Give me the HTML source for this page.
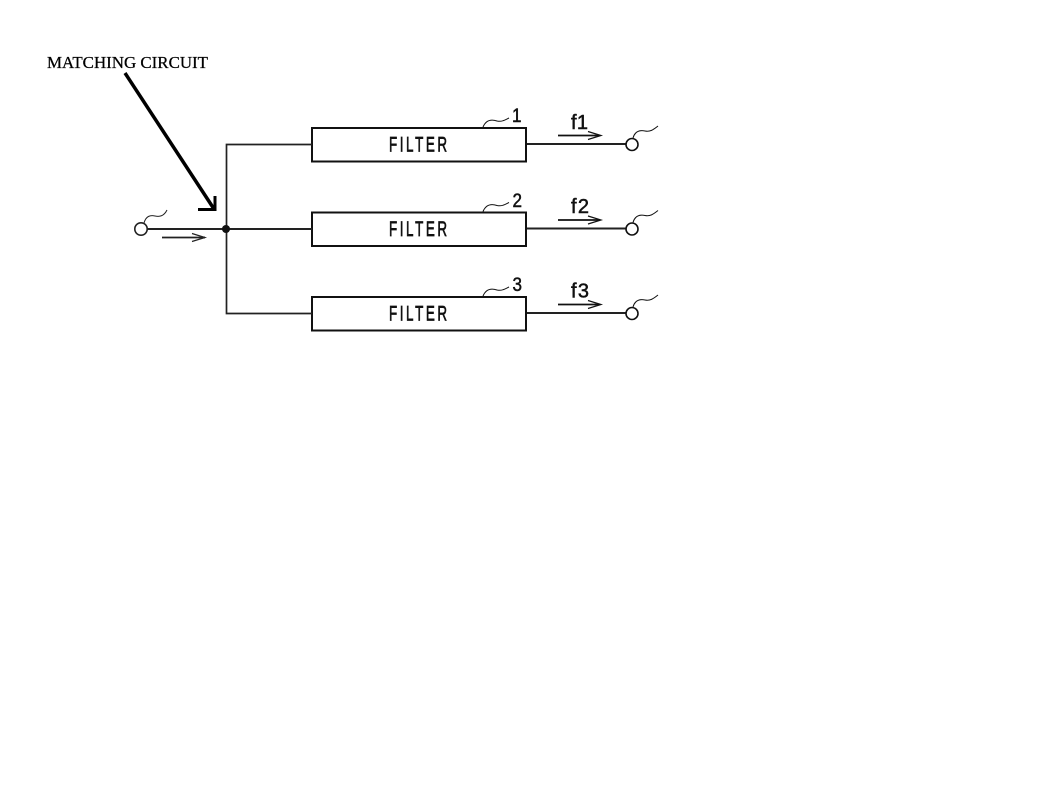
<!DOCTYPE html>
<html>
<head>
<meta charset="utf-8">
<style>
html,body{margin:0;padding:0;background:#fff;}
body{width:1057px;height:806px;overflow:hidden;}
svg{display:block;}
</style>
</head>
<body>
<svg width="1057" height="806" viewBox="0 0 1057 806" xmlns="http://www.w3.org/2000/svg">
<defs>
<g id="row" fill="none" stroke="#111">
  <rect x="312" y="128" width="214" height="33.500" stroke-width="2" fill="#fff"/>
  <line x1="527" y1="144" x2="626.500" y2="144" stroke-width="1.900" stroke="#222"/>
  <circle cx="632" cy="144.500" r="6" stroke-width="1.600" fill="#fff"/>
  <path d="M633 138 C635 131 640 130 645 131 C650 132 653 130 658 126" stroke-width="1"/>
  <path d="M483 127 C486 120 491 119 497 121 C502 122 505 120 509 118" stroke-width="1"/>
  <line x1="558" y1="135.500" x2="600" y2="135.500" stroke-width="1.700"/>
  <path d="M588 131.500 L601 135.500 L588 139.500" stroke-width="1.200"/>
  <text transform="translate(389 151.500) scale(.64 1)" x="0" y="0" font-family="'Liberation Sans',sans-serif" font-size="21" fill="#111" stroke="#111" stroke-width="0.700" letter-spacing="4">FILTER</text>
</g>
</defs>
<use href="#row"/>
<use href="#row" y="84.500"/>
<use href="#row" y="169"/>
<g font-family="'Liberation Sans',sans-serif" font-size="19" fill="#111" stroke="#111" stroke-width="0.500">
  <text x="512" y="122" textLength="9.500" lengthAdjust="spacingAndGlyphs">1</text>
  <text x="512.500" y="207" textLength="9.500" lengthAdjust="spacingAndGlyphs">2</text>
  <text x="512.500" y="291" textLength="9.500" lengthAdjust="spacingAndGlyphs">3</text>
  <text x="571" y="129" font-size="20" textLength="17" lengthAdjust="spacing">f1</text>
  <text x="571" y="213" font-size="20" textLength="18" lengthAdjust="spacing">f2</text>
  <text x="571" y="297.500" font-size="20" textLength="18" lengthAdjust="spacing">f3</text>
</g>
<g fill="none" stroke="#222">
  <path d="M312 144.500 H226.500 V313.500 H312" stroke-width="1.700"/>
  <line x1="147" y1="229" x2="312" y2="229" stroke-width="2"/>
  <circle cx="141" cy="229" r="6.200" stroke-width="1.600" fill="#fff"/>
  <path d="M144 223 C146 216 150 215 155 216 C160 217 164 216 167 210" stroke-width="1"/>
  <line x1="162" y1="237.500" x2="205" y2="237.500" stroke-width="1.700"/>
  <path d="M192 233.500 L205 237.500 L192 241.500" stroke-width="1.200"/>
</g>
<circle cx="226" cy="229" r="4" fill="#111"/>
<g fill="none" stroke="#000">
  <line x1="125" y1="73" x2="214" y2="209" stroke-width="3.500"/>
  <path d="M198 209.500 H215 V196" stroke-width="3"/>
</g>
<text x="47" y="68" font-family="'Liberation Serif',serif" font-size="16.500" fill="#000" stroke="#000" stroke-width="0.250" textLength="161" lengthAdjust="spacingAndGlyphs">MATCHING CIRCUIT</text>
</svg>
</body>
</html>
